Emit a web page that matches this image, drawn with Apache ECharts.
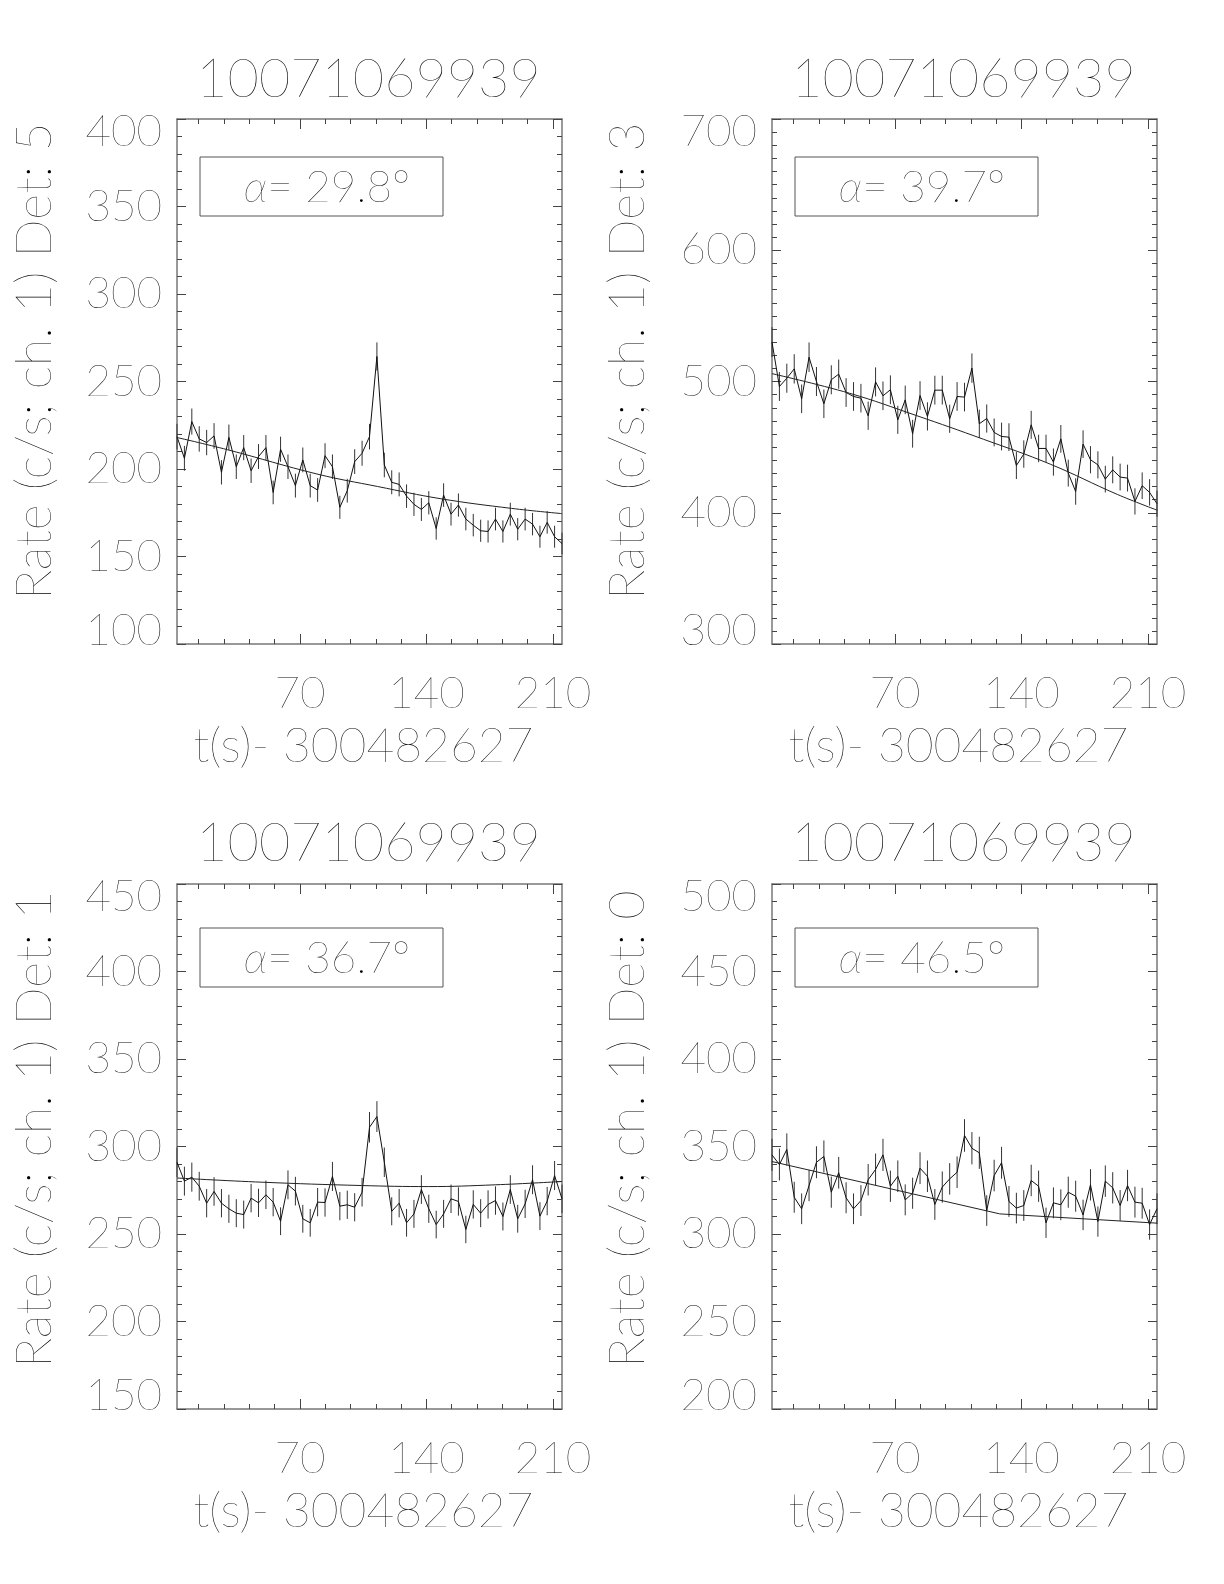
<!DOCTYPE html>
<html>
<head>
<meta charset="utf-8">
<script src="https://cdn.jsdelivr.net/npm/echarts@6/dist/echarts.min.js"></script>
<style>
html, body { margin: 0; padding: 0; background: #fff; }
#chart { width: 1224px; height: 1584px; }
</style>
</head>
<body>
<div id="chart"></div>
<script>
// light curves, 4.096 s bins, one panel per detector
const title = '10071069939'
const xName = 't(s)- 300482627'
const binWidth = 4.096
const times = [
  2.0, 6.1, 10.2, 14.3, 18.4, 22.5, 26.6, 30.7, 34.8, 38.9, 43.0, 47.1, 51.2, 55.2,
  59.3, 63.4, 67.5, 71.6, 75.7, 79.8, 83.9, 88.0, 92.1, 96.2, 100.3, 104.4, 108.5,
  112.6, 116.7, 120.8, 124.9, 129.0, 133.1, 137.2, 141.3, 145.4, 149.5, 153.6, 157.7,
  161.8, 165.9, 170.0, 174.1, 178.2, 182.3, 186.4, 190.5, 194.6, 198.7, 202.8, 206.8,
  210.9, 215.0,
]
const xMajorTicks = [70, 140, 210]
const xMinorTicks = [14, 28, 42, 56, 70, 84, 98, 112, 126, 140, 154, 168, 182, 196, 210]

const detectors = [5, 3, 1, 0]
const alphas = ['29.8', '39.7', '36.7', '46.5']
const yMin = [100, 300, 150, 200]
const yMax = [400, 700, 450, 500]
const yStep = [50, 100, 50, 50]
const yMinorSplit = [5, 10, 5, 5]

const rateDet5 = [
  218.5, 206.1, 227.1, 217.2, 215.1, 218.9, 198.1, 218.1, 201.3, 212.2, 199.0, 207.1,
  212.2, 186.6, 211.3, 201.3, 190.5, 205.2, 190.5, 188.0, 207.6, 201.3, 178.1, 187.6,
  204.2, 209.0, 218.5, 264.3, 202.3, 192.4, 191.2, 184.5, 179.8, 176.9, 180.7, 166.0,
  185.1, 174.2, 179.4, 171.4, 167.9, 164.7, 164.3, 171.4, 164.3, 174.2, 165.6, 171.4,
  168.5, 161.3, 169.5, 161.3, 157.4,
]
const rateDet3 = [
  530.0, 496.2, 502.5, 509.6, 486.8, 518.5, 500.0, 483.0, 501.3, 505.6, 491.6, 488.6,
  487.3, 473.9, 499.7, 489.1, 493.7, 470.8, 486.0, 460.2, 489.3, 473.4, 493.4, 493.4,
  471.6, 488.6, 488.1, 510.2, 467.8, 471.8, 461.2, 458.1, 457.6, 436.0, 444.7, 467.0,
  449.0, 449.0, 438.6, 456.3, 430.2, 416.2, 452.3, 440.4, 436.5, 425.6, 432.7, 427.2,
  426.4, 408.6, 420.6, 415.5, 406.9,
]
const rateDet1 = [
  291.0, 280.2, 282.5, 277.3, 267.6, 274.3, 267.6, 264.4, 261.9, 261.1, 270.5, 267.8,
  272.4, 268.2, 257.3, 278.1, 274.5, 258.7, 256.4, 268.2, 268.0, 282.9, 265.9, 266.7,
  265.3, 273.9, 311.0, 317.1, 291.0, 263.0, 267.6, 256.4, 261.5, 275.4, 264.4, 255.4,
  261.5, 270.1, 268.6, 252.6, 266.9, 261.9, 266.9, 269.1, 260.0, 275.4, 258.7, 267.2,
  281.0, 260.2, 268.8, 283.4, 270.1,
]
const rateDet0 = [
  345.2, 339.7, 348.3, 321.0, 314.4, 327.7, 341.0, 344.3, 323.9, 335.0, 320.7, 314.4,
  319.1, 331.0, 336.9, 345.2, 327.3, 333.0, 319.5, 323.3, 337.6, 333.0, 316.9, 326.8,
  331.5, 335.3, 356.3, 349.0, 346.4, 313.4, 333.4, 340.7, 318.6, 314.8, 316.3, 330.6,
  327.3, 306.4, 317.8, 316.7, 323.9, 321.6, 310.9, 328.1, 307.1, 330.2, 326.4, 316.3,
  327.7, 318.2, 317.6, 305.4, 314.4,
]
// background model, [t, rate]
const modelDet5 = [[2, 218], [30, 211], [80, 197], [113, 190], [148, 183], [187, 177.5], [215, 174.5]]
const modelDet3 = [[2, 506], [45, 491], [82, 474], [119, 456], [156, 437], [193, 414], [215, 402]]
const modelDet1 = [[2, 282], [49, 279.6], [104, 277.7], [141, 277.1], [178, 278.1], [215, 280]]
const modelDet0 = [[2, 341.4], [128, 311.5], [215, 306.2]]

const rates = [rateDet5, rateDet3, rateDet1, rateDet0]
const models = [modelDet5, modelDet3, modelDet1, modelDet0]
const smoothModel = [true, true, true, false]

// layout
const FONT = 'Lato'
const WEIGHT = 200
const INK = '#000'
const grids = [
  { left: 177, top: 119 },
  { left: 772, top: 119 },
  { left: 177, top: 884 },
  { left: 772, top: 884 },
]
const plotW = 385
const plotH = 525

function errorBar(params, api) {
  const t = api.value(0)
  const v = api.value(1)
  const e = api.value(2)
  const lo = api.coord([t, v - e])
  const hi = api.coord([t, v + e])
  return {
    type: 'line',
    shape: { x1: lo[0], y1: lo[1], x2: hi[0], y2: hi[1] },
    style: { stroke: '#333', lineWidth: 1 },
  }
}

const textStyle = size => ({
  fontFamily: FONT,
  fontWeight: WEIGHT,
  fontSize: size,
  color: INK,
})

const xAxis = []
const yAxis = []
const series = []
const graphic = []

grids.forEach((g, i) => {
  const base = {
    gridIndex: i,
    type: 'value',
    min: 2,
    max: 215,
    splitLine: { show: false },
    axisLine: { show: false, onZero: false },
    axisLabel: { show: false },
  }
  const boxLine = { show: true, onZero: false, lineStyle: { color: '#777', width: 1.5 } }
  // bottom: minor ticks + labels
  xAxis.push({
    ...base,
    position: 'bottom',
    axisLine: boxLine,
    axisTick: { inside: true, length: 5, customValues: xMinorTicks, lineStyle: { color: '#444' } },
    axisLabel: { show: true, customValues: xMajorTicks, margin: 28, ...textStyle(44) },
    name: xName,
    nameLocation: 'middle',
    nameGap: 79,
    nameTextStyle: { ...textStyle(48), padding: [0, 12, 0, 0] },
  })
  xAxis.push({
    ...base,
    position: 'bottom',
    axisTick: { inside: true, length: 10, customValues: xMajorTicks, lineStyle: { color: '#444' } },
  })
  // top: box side
  xAxis.push({
    ...base,
    position: 'top',
    axisLine: boxLine,
    axisTick: { inside: true, length: 5, customValues: xMinorTicks, lineStyle: { color: '#444' } },
  })
  xAxis.push({
    ...base,
    position: 'top',
    axisTick: { inside: true, length: 10, customValues: xMajorTicks, lineStyle: { color: '#444' } },
  })

  const yBase = {
    gridIndex: i,
    type: 'value',
    min: yMin[i],
    max: yMax[i],
    interval: yStep[i],
    splitLine: { show: false },
    axisLine: boxLine,
    axisTick: { inside: true, length: 9, lineStyle: { color: '#444' } },
    minorTick: { show: true, splitNumber: yMinorSplit[i], length: 5, lineStyle: { color: '#444' } },
  }
  yAxis.push({
    ...yBase,
    position: 'left',
    axisLabel: {
      margin: 15,
      lineHeight: 26,
      verticalAlignMaxLabel: 'top',
      verticalAlignMinLabel: 'bottom',
      ...textStyle(44),
    },
  })
  yAxis.push({ ...yBase, position: 'right', axisLabel: { show: false } })

  const rate = rates[i]
  series.push({
    type: 'custom',
    xAxisIndex: 4 * i,
    yAxisIndex: 2 * i,
    renderItem: errorBar,
    encode: { x: 0, y: 1 },
    // Poisson error of the binned rate
    data: times.map((t, j) => [t, rate[j], Math.sqrt(rate[j] / binWidth)]),
    z: 1,
  })
  series.push({
    type: 'line',
    xAxisIndex: 4 * i,
    yAxisIndex: 2 * i,
    data: times.map((t, j) => [t, rate[j]]),
    symbol: 'none',
    lineStyle: { color: '#111', width: 1 },
    z: 2,
  })
  series.push({
    type: 'line',
    xAxisIndex: 4 * i,
    yAxisIndex: 2 * i,
    data: models[i],
    smooth: smoothModel[i] ? 0.4 : false,
    symbol: 'none',
    lineStyle: { color: '#222', width: 1 },
    z: 3,
  })

  const cx = g.left + plotW / 2
  const upper = i < 2
  graphic.push({
    type: 'text',
    x: cx - 1,
    y: upper ? 80 : 844,
    style: {
      text: title,
      fill: INK,
      font: `${WEIGHT} 54px ${FONT}`,
      align: 'center',
      verticalAlign: 'middle',
    },
  })
  graphic.push({
    type: 'text',
    x: i % 2 === 0 ? 35 : 628,
    y: upper ? 361 : 1129,
    rotation: Math.PI / 2,
    style: {
      text: 'Rate (c/s; ch. 1) Det: ' + detectors[i],
      fill: INK,
      font: `${WEIGHT} 50px ${FONT}`,
      align: 'center',
      verticalAlign: 'middle',
    },
  })
  const bx = g.left + 23
  const by = upper ? 157 : 928
  graphic.push({
    type: 'rect',
    shape: { x: bx, y: by, width: 243, height: 59 },
    style: { fill: 'none', stroke: '#555', lineWidth: 1 },
  })
  graphic.push({
    type: 'text',
    x: bx + 127,
    y: by + 31,
    style: {
      text: '{a|α}= ' + alphas[i] + '°',
      fill: INK,
      font: `${WEIGHT} 44px ${FONT}`,
      align: 'center',
      verticalAlign: 'middle',
      rich: {
        a: { fontStyle: 'italic', fontFamily: FONT, fontWeight: WEIGHT, fontSize: 44, fill: INK },
      },
    },
  })
})

const chart = echarts.init(document.getElementById('chart'), null, { renderer: 'canvas' })
chart.setOption({
  animation: false,
  backgroundColor: '#fff',
  grid: grids.map(g => ({ left: g.left, top: g.top, width: plotW, height: plotH })),
  xAxis,
  yAxis,
  series,
  graphic,
})
</script>
</body>
</html>
